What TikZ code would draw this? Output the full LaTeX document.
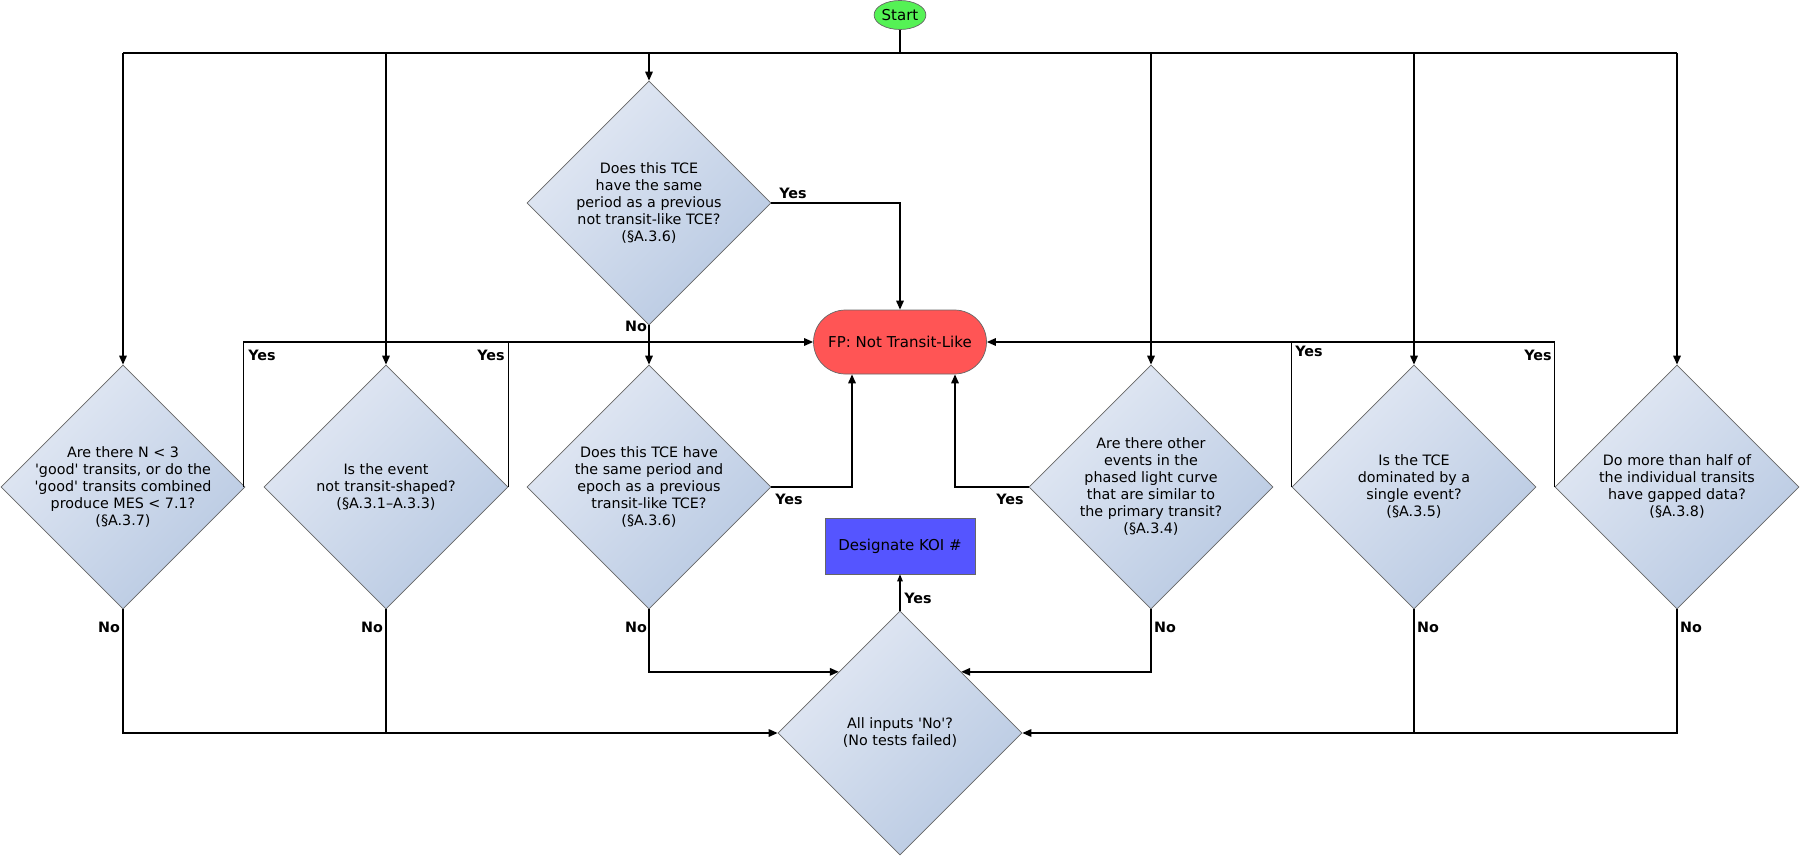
\documentclass[tikz,border=0pt]{standalone}
\usepackage{fontspec}
\setmainfont{DejaVu Sans}[Ligatures=TeXOff]
\usetikzlibrary{shapes.geometric,shapes.misc,arrows.meta}
\definecolor{dlight}{HTML}{E3E9F4}
\definecolor{ddark}{HTML}{B8C9E2}
\definecolor{startg}{HTML}{55F255}
\definecolor{fpred}{HTML}{FF5555}
\definecolor{koiblue}{HTML}{5555FF}
\newcommand{\mfs}{\fontsize{14.3}{17}\selectfont}
\newcommand{\bfs}{\fontsize{15}{18}\selectfont}
\begin{document}
\begin{tikzpicture}[x=1pt,y=-1pt,
  every node/.style={font=\mfs},
  dec/.style={diamond, aspect=1, draw=black!60, line width=0.7pt, top color=dlight, bottom color=ddark, shading angle=45, minimum width=244pt, minimum height=244pt, inner sep=0pt},
  qtext/.style={align=center, inner sep=0pt},
  conn/.style={line width=1.6pt, black},
  arr/.style={conn, -{Triangle[length=9pt,width=7.5pt]}},
  thinarr/.style={line width=1.1pt, black, -{Triangle[length=7pt,width=5.5pt]}},
  yn/.style={font=\mfs\bfseries, inner sep=0pt},
]
\useasboundingbox (0,0) rectangle (1800,856);

% nodes
\node[ellipse, draw=black!60, line width=0.7pt, fill=startg, minimum width=50pt, minimum height=29pt, inner sep=0pt, font=\bfs] (start) at (900,15) {Start};
\node[rounded rectangle, draw=black!60, line width=0.7pt, fill=fpred, minimum width=173pt, minimum height=64pt, inner sep=0pt, font=\bfs] (fp) at (900,342) {FP: Not Transit-Like};
\node[rectangle, draw=black!60, line width=0.7pt, fill=koiblue, minimum width=150pt, minimum height=56pt, inner sep=0pt, font=\bfs] (koi) at (900,546) {Designate KOI \#};

\node[dec] (dt) at (649,203) {};
\node[qtext] (tt) at (dt.center) {Does this TCE\\have the same\\period as a previous\\not transit-like TCE?\\(§A.3.6)};

\node[dec] (d1) at (123,487) {};
\node[qtext] (t1) at (d1.center) {Are there N < 3\\'good' transits, or do the\\'good' transits combined\\produce MES < 7.1?\\(§A.3.7)};

\node[dec] (d2) at (386,487) {};
\node[qtext] (t2) at (d2.center) {Is the event\\not transit-shaped?\\(§A.3.1–A.3.3)};

\node[dec] (d3) at (649,487) {};
\node[qtext] (t3) at (d3.center) {Does this TCE have\\the same period and\\epoch as a previous\\transit-like TCE?\\(§A.3.6)};

\node[dec] (d4) at (1151,487) {};
\node[qtext] (t4) at (d4.center) {Are there other\\events in the\\phased light curve\\that are similar to\\the primary transit?\\(§A.3.4)};

\node[dec] (d5) at (1414,487) {};
\node[qtext] (t5) at (d5.center) {Is the TCE\\dominated by a\\single event?\\(§A.3.5)};

\node[dec] (d6) at (1677,487) {};
\node[qtext] (t6) at (d6.center) {Do more than half of\\the individual transits\\have gapped data?\\(§A.3.8)};

\node[dec] (all) at (900,733) {};
\node[qtext] (ta) at (all.center) {All inputs 'No'?\\(No tests failed)};

% bus
\coordinate (busL) at (123,53);
\coordinate (busR) at (1677,53);
\draw[conn] (start.south) -- (start.south |- busL);
\draw[conn] (busL) -- (busR);
\draw[arr] (busL) -- (d1.north);
\draw[arr] (d2.north |- busL) -- (d2.north);
\draw[arr] (dt.north |- busL) -- (dt.north);
\draw[arr] (d4.north |- busL) -- (d4.north);
\draw[arr] (d5.north |- busL) -- (d5.north);
\draw[arr] (busR) -- (d6.north);

% top diamond
\draw[arr] (dt.east) -| (fp.north);
\draw[arr] (dt.south) -- (d3.north);

% yes to FP
\draw[conn] (d2.east) -- (d2.east |- fp.west);
\draw[arr] ([xshift=-2pt]d1.east) |- (fp.west);
\draw[conn] (d5.west) -- (d5.west |- fp.east);
\draw[arr] (d6.west) |- (fp.east);
\draw[arr] (d3.east) -| ([xshift=-48pt]fp.south);
\draw[arr] (d4.west) -| ([xshift=55pt]fp.south);

% no to all
\draw[conn] (d2.south) -- (d2.south |- all.west);
\draw[arr] (d1.south) |- (all.west);
\draw[conn] (d5.south) -- (d5.south |- all.east);
\draw[arr] (d6.south) |- (all.east);
\draw[arr] (d3.south) |- (all.north west);
\draw[arr] (d4.south) |- (all.north east);
\draw[thinarr] (all.north) -- (koi.south);

% labels
\node[yn] (ly0) at (793,193) {Yes};
\node[yn] (ln0) at (636,326) {No};
\node[yn] (ly1) at (262,355) {Yes};
\node[yn] (ly2) at (491,355) {Yes};
\node[yn] (ly3) at (789,499) {Yes};
\node[yn] (ly4) at (1010,499) {Yes};
\node[yn] (ly5) at (1309,351) {Yes};
\node[yn] (ly6) at (1538,355) {Yes};
\node[yn] (ln1) at (109,627) {No};
\node[yn] (ln2) at (372,627) {No};
\node[yn] (ln3) at (636,627) {No};
\node[yn] (ln4) at (1165,627) {No};
\node[yn] (ln5) at (1428,627) {No};
\node[yn] (ln6) at (1691,627) {No};
\node[yn] (lya) at (918,598) {Yes};
\end{tikzpicture}
\end{document}
